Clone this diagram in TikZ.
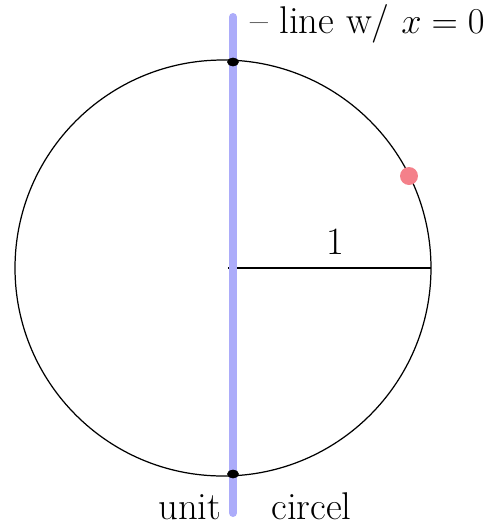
\documentclass[tikz,border=0pt]{standalone}
\usepackage{tikz}
\usetikzlibrary{positioning, shapes.geometric}

\definecolor{lineblue}{RGB}{172,172,250}
\definecolor{dotred}{RGB}{244,128,138}

\begin{document}
\begin{tikzpicture}[x=0.02cm,y=-0.02cm,
    every node/.style={font=\fontsize{22}{26}\selectfont},
    dotmark/.style={draw=black,fill=black,ellipse,inner sep=0pt,minimum width=0.22cm,minimum height=0.16cm}]
    \useasboundingbox (0,0) rectangle (500,525);
    \coordinate (O) at (223,268);
    \coordinate (R) at (431,268);
    \coordinate (top) at (233,17);
    \coordinate (bottom) at (233,513);
    % unit circle
    \draw[line width=0.7pt] (O) circle (208);
    \draw[line width=1pt] (228,268) -- (R);
    \node (one) at (335,242) {1};
    % the line x = 0
    \draw[lineblue,line width=0.16cm,line cap=round] (top) -- (bottom);
    \node[dotmark] (p1) at (233,62) {};
    \node[dotmark] (p2) at (233,474) {};
    \node[circle,fill=dotred,inner sep=0pt,minimum size=0.36cm] (q) at (409,176) {};
    \node[anchor=west] (linelabel) at (244,24) {-- line w/ $x=0$};
    \node (circlelabel) at (255,506) {unit\hspace{1.3em}circel};
\end{tikzpicture}
\end{document}
